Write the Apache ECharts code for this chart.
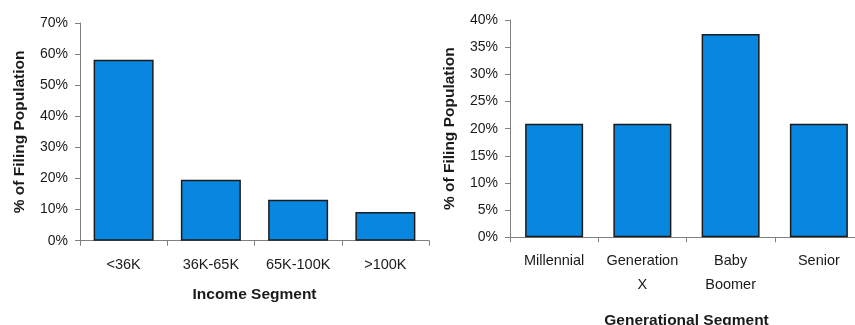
<!DOCTYPE html>
<html>
<head>
<meta charset="utf-8">
<script src="https://cdn.jsdelivr.net/npm/echarts@6/dist/echarts.min.js"></script>
<style>
  html, body { margin: 0; padding: 0; background: #fff; }
  #chart { width: 855px; height: 325px; }
</style>
</head>
<body>
<div id="chart"></div>
<script>
// Share of filing population by income band (percent)
const incomeCategories = ['<36K', '36K-65K', '65K-100K', '>100K'];
const incomeValues = [58.2, 19.6, 13.2, 9.2];

// Share of filing population by generation (percent)
const generationCategories = ['Millennial', 'Generation\nX', 'Baby\nBoomer', 'Senior'];
const generationValues = [20.9, 20.9, 37.4, 20.9];

const font = '"Liberation Sans", Arial, sans-serif';
const axisColor = '#808080';
const textColor = '#1a1a1a';

function valueAxis(gridIndex, max, interval) {
  return {
    type: 'value',
    gridIndex: gridIndex,
    min: 0,
    max: max,
    interval: interval,
    name: '% of Filing Population',
    nameLocation: 'middle',
    nameGap: 52,
    nameTextStyle: { fontFamily: font, fontSize: 15.5, fontWeight: 'bold', color: textColor },
    axisLine: { show: true, lineStyle: { color: axisColor, width: 1 } },
    axisTick: { show: true, length: 5, inside: false, lineStyle: { color: axisColor } },
    axisLabel: { fontFamily: font, fontSize: 14, color: textColor, margin: 12, formatter: '{value}%' },
    splitLine: { show: false }
  };
}

function categoryAxis(gridIndex, data, name, nameGap) {
  return {
    type: 'category',
    gridIndex: gridIndex,
    data: data,
    name: name,
    nameLocation: 'middle',
    nameGap: nameGap,
    nameTextStyle: { fontFamily: font, fontSize: 15.5, fontWeight: 'bold', color: textColor },
    axisLine: { show: true, lineStyle: { color: axisColor, width: 1 } },
    axisTick: { show: true, length: 5, alignWithLabel: false, lineStyle: { color: axisColor } },
    axisLabel: { fontFamily: font, fontSize: 14.5, color: textColor, margin: 12, lineHeight: 24, interval: 0 },
    splitLine: { show: false }
  };
}

const barStyle = { color: '#0887E0', borderColor: '#1c1c1c', borderWidth: 1.5 };

const chart = echarts.init(document.getElementById('chart'), null, { renderer: 'canvas' });
chart.setOption({
  animation: false,
  backgroundColor: '#ffffff',
  grid: [
    { left: 80, top: 23, width: 349, height: 217.7, containLabel: false, outerBoundsMode: 'none' },
    { left: 510, top: 20, width: 353, height: 217.3, containLabel: false, outerBoundsMode: 'none' }
  ],
  xAxis: [
    categoryAxis(0, incomeCategories, 'Income Segment', 46),
    categoryAxis(1, generationCategories, 'Generational Segment', 75)
  ],
  yAxis: [
    valueAxis(0, 70, 10),
    valueAxis(1, 40, 5)
  ],
  series: [
    { type: 'bar', xAxisIndex: 0, yAxisIndex: 0, data: incomeValues, barWidth: 60, itemStyle: barStyle },
    { type: 'bar', xAxisIndex: 1, yAxisIndex: 1, data: generationValues, barWidth: 58, itemStyle: barStyle }
  ]
});
</script>
</body>
</html>
